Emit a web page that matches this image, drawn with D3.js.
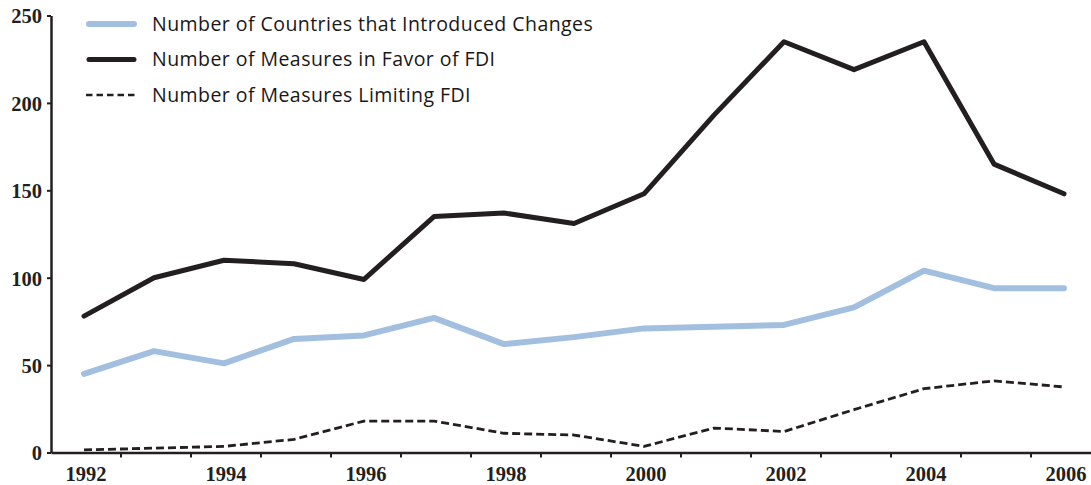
<!DOCTYPE html>
<html>
<head>
<meta charset="utf-8">
<script src="https://cdn.jsdelivr.net/npm/d3@7"></script>
<style>
  body { margin: 0; background: #fff; }
  .tick text { font-family: 'Liberation Serif', serif; font-weight: bold; font-size: 20.5px; fill: #231f20; }
  .legend text { font-family: 'Open Sans', sans-serif; font-size: 19.5px; letter-spacing: 0.45px; fill: #1a1718; }
</style>
</head>
<body>
<svg id="chart" width="1091" height="485"></svg>
<script>
const years = [1992, 1993, 1994, 1995, 1996, 1997, 1998, 1999, 2000, 2001, 2002, 2003, 2004, 2005, 2006]
const countries = [45, 58, 51, 65, 67, 77, 62, 66, 71, 72, 73, 83, 104, 94, 94]
const favorable = [78, 100, 110, 108, 99, 135, 137, 131, 148, 193, 235, 219, 235, 165, 148]
const limiting = [1.5, 2.5, 3.5, 7.5, 18, 18, 11, 10, 3.5, 14, 12, 24.5, 36.5, 41, 37.5]
const yTicks = [0, 50, 100, 150, 200, 250]
const xLabels = [1992, 1994, 1996, 1998, 2000, 2002, 2004, 2006]

const seriesNames = [
  'Number of Countries that Introduced Changes',
  'Number of Measures in Favor of FDI',
  'Number of Measures Limiting FDI'
]

const ink = '#231f20'
const styles = [
  { color: '#a3bfdf', width: 6, dash: null, key: null },
  { color: ink, width: 5, dash: null, key: null },
  { color: ink, width: 2.8, dash: '8,4', key: '6.5,4' }
]

const svg = d3.select('#chart')

const x = d3.scaleBand()
  .domain(years)
  .range([51, 1101])

const y = d3.scaleLinear()
  .domain([0, 250])
  .range([452.5, 15.5])

// points sit a little left of the band centre
const px = yr => x(yr) + x.bandwidth() / 2 - 2

// y axis
const yAxis = svg.append('g')
  .attr('transform', `translate(${x.range()[0]},0)`)
  .call(d3.axisLeft(y).tickValues(yTicks).tickSize(4).tickSizeOuter(0).tickPadding(5))
yAxis.select('.domain').attr('stroke', ink).attr('stroke-width', 2.5)
yAxis.selectAll('.tick line').attr('stroke', ink).attr('stroke-width', 2)
yAxis.selectAll('.tick text').attr('dy', '0.36em')

// x axis: labels at band centres, tick marks at band edges
const xAxis = svg.append('g')
  .attr('transform', `translate(0,${y(0)})`)
  .call(d3.axisBottom(x).tickValues(xLabels).tickSize(0).tickPadding(14).tickSizeOuter(0))
xAxis.select('.domain').attr('stroke', ink).attr('stroke-width', 2.5)

xAxis.selectAll('.edge')
  .data(years.slice(1))
  .join('line')
  .classed('edge', true)
  .attr('x1', d => x(d))
  .attr('x2', d => x(d))
  .attr('y1', 0)
  .attr('y2', 5)
  .attr('stroke', ink)
  .attr('stroke-width', 2)

// lines
const line = d3.line()
  .x((d, i) => px(years[i]))
  .y(d => y(d))

const data = [countries, favorable, limiting]
svg.append('g')
  .selectAll('path')
  .data(data)
  .join('path')
  .attr('d', line)
  .attr('fill', 'none')
  .attr('stroke', (d, i) => styles[i].color)
  .attr('stroke-width', (d, i) => styles[i].width)
  .attr('stroke-dasharray', (d, i) => styles[i].dash)
  .attr('stroke-linejoin', 'round')
  .attr('stroke-linecap', (d, i) => styles[i].dash ? 'butt' : 'round')

// legend
const legend = svg.append('g').classed('legend', true)
const rows = legend.selectAll('g')
  .data(seriesNames)
  .join('g')
  .attr('transform', (d, i) => `translate(0,${24 + i * 35.5})`)

rows.append('line')
  .attr('x1', (d, i) => styles[i].dash ? 86 : 89)
  .attr('x2', (d, i) => styles[i].dash ? 137 : 134)
  .attr('stroke', (d, i) => styles[i].color)
  .attr('stroke-width', (d, i) => styles[i].dash ? 2.5 : styles[i].width)
  .attr('stroke-dasharray', (d, i) => styles[i].key)
  .attr('stroke-linecap', (d, i) => styles[i].dash ? 'butt' : 'round')

rows.append('text')
  .attr('x', 152)
  .attr('dy', '0.35em')
  .text(d => d)
</script>
</body>
</html>
